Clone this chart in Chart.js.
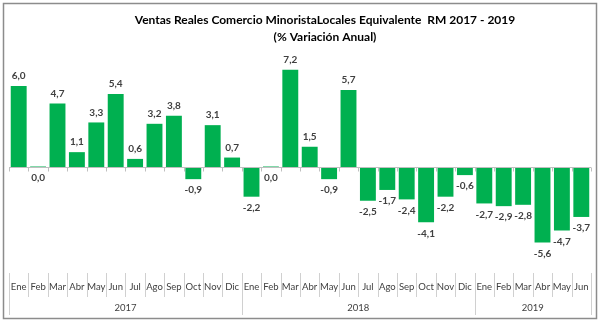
<!DOCTYPE html>
<html>
<head>
<meta charset="utf-8">
<script src="https://cdn.jsdelivr.net/npm/chart.js@4"></script>
<style>
  html, body { margin: 0; padding: 0; background: #fff; }
  #wrap { width: 603px; height: 329px; position: relative; }
</style>
</head>
<body>
<div id="wrap"><canvas id="barChart"></canvas></div>
<script>
const meses = ['Ene','Feb','Mar','Abr','May','Jun','Jul','Ago','Sep','Oct','Nov','Dic',
               'Ene','Feb','Mar','Abr','May','Jun','Jul','Ago','Sep','Oct','Nov','Dic',
               'Ene','Feb','Mar','Abr','May','Jun']
const anios = ['2017', '2018', '2019']
const mesesPorAnio = [12, 12, 6]
const variacion = [6.0, 0.0, 4.7, 1.1, 3.3, 5.4, 0.6, 3.2, 3.8, -0.9, 3.1, 0.7,
                   -2.2, 0.0, 7.2, 1.5, -0.9, 5.7, -2.5, -1.7, -2.4, -4.1, -2.2, -0.6,
                   -2.7, -2.9, -2.8, -5.6, -4.7, -3.7]
const titulo = ['Ventas Reales Comercio MinoristaLocales Equivalente  RM 2017 - 2019', '(% Variación Anual)']

const FONT = 'Lato, "Open Sans", sans-serif'
const VERDE = '#00B050'

// marco, titulo, eje cero, etiquetas y ejes de categorias
const decoracion = {
  id: 'decoracion',
  beforeDraw (chart) {
    const ctx = chart.ctx
    ctx.save()
    ctx.fillStyle = '#fff'
    ctx.fillRect(0, 0, chart.width, chart.height)
    ctx.strokeStyle = '#8c8c8c'
    ctx.lineWidth = 1.5
    ctx.strokeRect(3.5, 3.5, 593, 315)
    ctx.fillStyle = '#000'
    ctx.textAlign = 'center'
    ctx.textBaseline = 'middle'
    ctx.font = 'bold 12px ' + FONT
    ctx.fillText(titulo[0], 325, 20)
    ctx.fillText(titulo[1], 325, 37)
    ctx.restore()
  },
  afterDatasetsDraw (chart) {
    const ctx = chart.ctx
    const x = chart.scales.x
    const y = chart.scales.y
    const area = chart.chartArea
    const w = (area.right - area.left) / meses.length
    const y0 = Math.round(y.getPixelForValue(0)) + 0.5
    ctx.save()
    // eje en cero
    ctx.strokeStyle = '#bfbfbf'
    ctx.lineWidth = 1
    ctx.beginPath()
    ctx.moveTo(area.left, y0)
    ctx.lineTo(area.right, y0)
    for (let i = 0; i <= meses.length; i++) {
      const px = Math.round(area.left + i * w) + 0.5
      ctx.moveTo(px, y0)
      ctx.lineTo(px, y0 + 4)
    }
    ctx.stroke()

    // etiquetas de datos
    ctx.fillStyle = '#404040'
    ctx.font = 'bold 10px ' + FONT
    ctx.textAlign = 'center'
    ctx.textBaseline = 'middle'
    const meta = chart.getDatasetMeta(0)
    meta.data.forEach((bar, i) => {
      const v = variacion[i]
      const txt = v.toFixed(1).replace('.', ',')
      const py = v > 0 ? y.getPixelForValue(v) - 10 : y.getPixelForValue(v) + 11
      ctx.fillText(txt, bar.x, py)
    })

    // eje de categorias (meses y anios)
    const top = 273
    ctx.strokeStyle = '#d0d0d0'
    ctx.beginPath()
    let k = 0
    const cortes = [0]
    mesesPorAnio.forEach(n => { k += n; cortes.push(k) })
    for (let i = 0; i <= meses.length; i++) {
      const px = Math.round(area.left + i * w) + 0.5
      ctx.moveTo(px, top)
      ctx.lineTo(px, cortes.includes(i) ? 315 : 297)
    }
    ctx.stroke()
    ctx.font = '9.5px ' + FONT
    meses.forEach((m, i) => {
      ctx.fillText(m, x.getPixelForValue(i), 287)
    })
    anios.forEach((a, j) => {
      const c = (x.getPixelForValue(cortes[j]) + x.getPixelForValue(cortes[j + 1] - 1)) / 2
      ctx.fillText(a, c, 308)
    })
    ctx.restore()
  }
}

new Chart(document.getElementById('barChart'), {
  type: 'bar',
  data: {
    labels: meses,
    datasets: [{
      data: variacion,
      backgroundColor: VERDE,
      borderWidth: 0,
      minBarLength: 1,
      barPercentage: 0.82,
      categoryPercentage: 1
    }]
  },
  options: {
    responsive: true,
    maintainAspectRatio: false,
    animation: false,
    layout: { padding: { left: 9, right: 12, top: 59, bottom: 54 } },
    plugins: {
      legend: { display: false },
      title: { display: false },
      tooltip: { enabled: false }
    },
    scales: {
      x: { display: false },
      y: { display: false, min: -8, max: 8 }
    }
  },
  plugins: [decoracion]
})
</script>
</body>
</html>
